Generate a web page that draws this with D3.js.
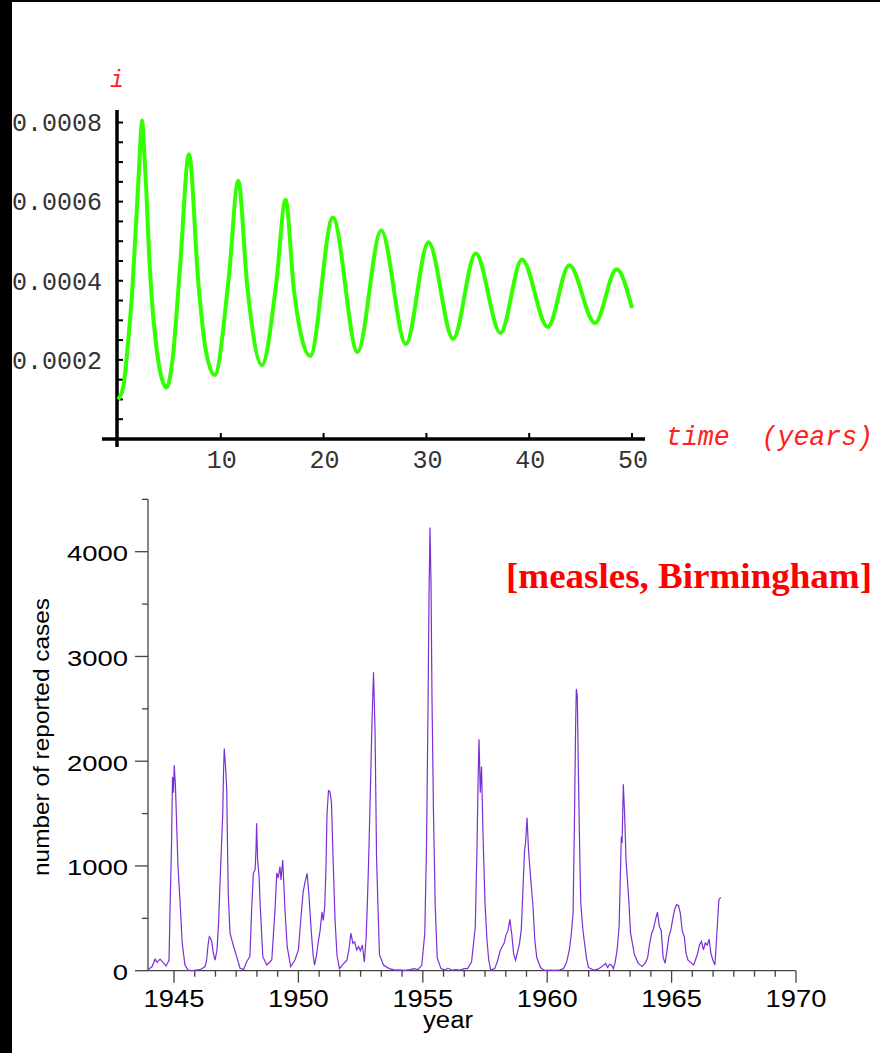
<!DOCTYPE html>
<html>
<head>
<meta charset="utf-8">
<script src="https://cdn.jsdelivr.net/npm/d3@7"></script>
<style>
  body { margin: 0; background: #000; }
  svg { display: block; }
</style>
</head>
<body>
<svg width="880" height="1053"></svg>
<script>
// top panel: model fraction infected i against time (years)
var modelTime = [0, 0.5, 1.0, 1.4, 1.7, 2.0, 2.2, 2.35, 2.5, 2.75, 3.0, 3.3, 3.7, 4.1, 4.74,
  5.3, 6.05, 6.9, 7.83, 8.5, 9.4, 10.77, 11.7, 12.56, 14.0, 15.38, 16.3, 17.1, 18.7, 20.9, 23.3, 25.6, 28.0,
  30.2, 32.6, 34.8, 37.2, 39.3, 41.8, 43.9, 46.4, 48.5, 50];
var modelI = [0.000100, 0.000130, 0.000250, 0.000380, 0.000520, 0.000660, 0.000760, 0.000805,
  0.000750, 0.000630, 0.000480, 0.000350, 0.000240, 0.000170, 0.000130,
  0.000200, 0.000440, 0.000720, 0.000390, 0.000230, 0.000162, 0.000406, 0.000653, 0.000390, 0.000187,
  0.000390, 0.000605, 0.000380, 0.000210, 0.000560, 0.000220, 0.000527, 0.000240,
  0.000497, 0.000253, 0.000469, 0.000268, 0.000454, 0.000283, 0.000439, 0.000293, 0.000429, 0.000331];
var modelTicksX = [10, 20, 30, 40, 50];
var modelTicksY = [0.0002, 0.0004, 0.0006, 0.0008];

// bottom panel: reported measles cases, Birmingham
var caseYear = [1943.95, 1944.12, 1944.24, 1944.32, 1944.44, 1944.56, 1944.68, 1944.80, 1944.84, 1944.90, 1944.94, 1944.98,
  1945.01, 1945.06, 1945.11, 1945.16, 1945.24, 1945.33, 1945.44, 1945.57, 1945.72, 1945.88, 1946.05, 1946.25,
  1946.31, 1946.37, 1946.42, 1946.47, 1946.52, 1946.57, 1946.65, 1946.73, 1946.79, 1946.85, 1946.91, 1946.96,
  1946.99, 1947.02, 1947.07, 1947.12, 1947.15, 1947.18, 1947.25, 1947.38, 1947.52, 1947.65, 1947.79, 1947.92,
  1948.05, 1948.12, 1948.19, 1948.26, 1948.30, 1948.32, 1948.36, 1948.42, 1948.46, 1948.57, 1948.73, 1948.93,
  1949.06, 1949.13, 1949.19, 1949.26, 1949.30, 1949.37, 1949.42, 1949.46, 1949.55, 1949.69, 1949.86, 1950.00,
  1950.10, 1950.19, 1950.27, 1950.35, 1950.43, 1950.51, 1950.59, 1950.65, 1950.73, 1950.79, 1950.87, 1950.95,
  1951.00, 1951.06, 1951.11, 1951.15, 1951.21, 1951.27, 1951.33, 1951.39, 1951.47, 1951.55, 1951.65, 1951.79,
  1951.95, 1952.03, 1952.11, 1952.19, 1952.26, 1952.34, 1952.42, 1952.49, 1952.57, 1952.65, 1952.72, 1952.78,
  1952.84, 1952.90, 1952.96, 1953.02, 1953.08, 1953.14, 1953.19, 1953.26, 1953.42, 1953.65, 1953.88, 1954.08,
  1954.29, 1954.49, 1954.65, 1954.81, 1954.96, 1955.08, 1955.15, 1955.21, 1955.25, 1955.29, 1955.33, 1955.37,
  1955.43, 1955.50, 1955.58, 1955.73, 1955.89, 1956.01, 1956.17, 1956.33, 1956.50, 1956.66, 1956.80, 1956.96,
  1957.11, 1957.18, 1957.22, 1957.26, 1957.31, 1957.36, 1957.42, 1957.50, 1957.58, 1957.65, 1957.73, 1957.89,
  1958.00, 1958.12, 1958.27, 1958.34, 1958.42, 1958.50, 1958.58, 1958.65, 1958.73, 1958.81, 1958.89, 1958.96,
  1959.03, 1959.09, 1959.13, 1959.19, 1959.25, 1959.33, 1959.43, 1959.50, 1959.58, 1959.73, 1959.89, 1960.11,
  1960.31, 1960.52, 1960.66, 1960.78, 1960.89, 1960.97, 1961.04, 1961.10, 1961.14, 1961.17, 1961.21, 1961.26,
  1961.31, 1961.35, 1961.43, 1961.50, 1961.58, 1961.66, 1961.89, 1962.04, 1962.20, 1962.35, 1962.43, 1962.50,
  1962.58, 1962.66, 1962.73, 1962.81, 1962.89, 1962.94, 1962.98, 1963.01, 1963.06, 1963.11, 1963.17, 1963.28,
  1963.35, 1963.51, 1963.66, 1963.82, 1963.97, 1964.04, 1964.12, 1964.20, 1964.27, 1964.35, 1964.43, 1964.51,
  1964.58, 1964.66, 1964.74, 1964.82, 1964.89, 1964.97, 1965.04, 1965.12, 1965.20, 1965.28, 1965.35, 1965.43,
  1965.51, 1965.58, 1965.66, 1965.74, 1965.89, 1966.05, 1966.12, 1966.20, 1966.28, 1966.35, 1966.43, 1966.51,
  1966.58, 1966.66, 1966.74, 1966.82, 1966.90, 1966.97];
var caseCount = [10, 40, 110, 80, 110, 80, 45, 100, 580, 1200, 1850, 1700,
  1960, 1750, 1375, 1000, 675, 264, 54, 5, 0, 5, 10, 40,
  100, 250, 325, 310, 277, 180, 102, 200, 450, 837, 1200, 1505,
  1900, 2120, 1950, 1725, 1200, 740, 360, 245, 134, 26, 10, 86,
  134, 580, 933, 962, 1184, 1407, 1057, 900, 646, 134, 54, 102,
  580, 933, 885, 993, 866, 1057, 800, 580, 229, 38, 102, 198,
  500, 750, 850, 930, 700, 400, 150, 54, 150, 264, 380, 560,
  480, 620, 1000, 1500, 1720, 1710, 1600, 1100, 500, 150, 20, 60,
  100, 200, 358, 260, 275, 198, 230, 190, 245, 84, 300, 700,
  1200, 1800, 2400, 2850, 2300, 1100, 675, 150, 54, 20, 5, 8,
  3, 10, 20, 10, 54, 358, 1200, 2500, 3600, 4230, 3700, 2600,
  1500, 611, 121, 20, 5, 25, 5, 10, 5, 20, 20, 84,
  420, 1200, 1800, 2210, 1700, 1950, 1300, 645, 293, 102, 5, 20,
  90, 198, 264, 340, 380, 490, 340, 160, 100, 180, 264, 397,
  800, 1150, 1220, 1460, 1150, 900, 611, 300, 126, 30, 3, 5,
  3, 8, 20, 80, 198, 350, 551, 1500, 2300, 2690, 2620, 1800,
  1100, 645, 400, 264, 120, 30, 5, 15, 40, 70, 30, 60,
  54, 20, 80, 198, 420, 900, 1280, 1220, 1780, 1500, 1050, 675,
  358, 150, 70, 40, 84, 130, 264, 358, 397, 486, 560, 420,
  390, 126, 70, 198, 325, 390, 486, 582, 630, 620, 550, 376,
  325, 166, 100, 84, 54, 166, 245, 280, 198, 264, 245, 300,
  166, 100, 54, 358, 675, 700];
var yearTicks = [1945, 1950, 1955, 1960, 1965, 1970];
var caseTicks = [0, 1000, 2000, 3000, 4000];

var svg = d3.select("svg");

// black frame with the white page
svg.append("rect").attr("width", 880).attr("height", 1053).attr("fill", "#000");
svg.append("rect").attr("x", 12).attr("y", 2).attr("width", 868).attr("height", 1051).attr("fill", "#fff");

//----- top chart -----
var x1 = d3.scaleLinear().domain([0, 50]).range([118, 632]);
var y1 = d3.scaleLinear().domain([0, 0.0008]).range([439, 122.5]);
var topG = svg.append("g");
var mono = "'Liberation Mono', 'Courier New', monospace";

// axes
topG.append("line").attr("x1", 117).attr("x2", 117).attr("y1", 110).attr("y2", 447)
  .attr("stroke", "#000").attr("stroke-width", 3.5);
topG.append("line").attr("x1", 102).attr("x2", 645).attr("y1", y1(0)).attr("y2", y1(0))
  .attr("stroke", "#000").attr("stroke-width", 3.5);

// y ticks every 0.00005
topG.selectAll(".ytick").data(d3.range(1, 17).map(function(i){ return i * 0.00005; }))
  .enter().append("line")
  .attr("x1", 117).attr("x2", 123)
  .attr("y1", function(d){ return y1(d); }).attr("y2", function(d){ return y1(d); })
  .attr("stroke", "#000").attr("stroke-width", 2);
topG.selectAll(".xtick").data(modelTicksX)
  .enter().append("line")
  .attr("x1", function(d){ return x1(d); }).attr("x2", function(d){ return x1(d); })
  .attr("y1", y1(0)).attr("y2", y1(0) - 6)
  .attr("stroke", "#000").attr("stroke-width", 2);

topG.selectAll(".ylab").data(modelTicksY)
  .enter().append("text")
  .attr("x", 102).attr("y", function(d){ return y1(d); })
  .attr("dy", "0.35em")
  .attr("text-anchor", "end")
  .style("font-family", mono).style("font-size", "25px").attr("fill", "#333")
  .text(function(d){ return d.toFixed(4); });
topG.selectAll(".xlab").data(modelTicksX)
  .enter().append("text")
  .attr("x", function(d){ return x1(d) + 1; }).attr("y", 468)
  .attr("text-anchor", "middle")
  .style("font-family", mono).style("font-size", "25px").attr("fill", "#333")
  .text(function(d){ return d; });

// the model curve
var modelLine = d3.line()
  .x(function(d){ return x1(d[0]); })
  .y(function(d){ return y1(d[1]); })
  .curve(d3.curveMonotoneX);
topG.append("path")
  .datum(d3.zip(modelTime, modelI))
  .attr("d", modelLine)
  .attr("fill", "none")
  .attr("stroke", "#33ff00")
  .attr("stroke-width", 4)
  .attr("stroke-linejoin", "round");

// red axis names
topG.append("text").attr("x", 117).attr("y", 87).attr("text-anchor", "middle")
  .style("font-family", mono).style("font-style", "italic").style("font-size", "23px")
  .attr("fill", "#ff2020").text("i");
topG.append("text").attr("x", 666).attr("y", 445)
  .attr("textLength", 207).attr("lengthAdjust", "spacingAndGlyphs")
  .style("white-space", "pre")
  .style("font-family", mono).style("font-style", "italic").style("font-size", "27px")
  .attr("fill", "#ff2020").text("time  (years)");

//----- bottom chart -----
var x2 = d3.scaleLinear().domain([1945, 1970]).range([174, 796]);
var y2 = d3.scaleLinear().domain([0, 4000]).range([970.7, 551.7]);
var botG = svg.append("g");
var sans = "'Liberation Sans', Arial, Helvetica, sans-serif";
var axisCol = "#444";

botG.append("line").attr("x1", 148).attr("x2", 148).attr("y1", y2(0)).attr("y2", y2(4500))
  .attr("stroke", axisCol).attr("stroke-width", 1.3);
botG.append("line").attr("x1", 148).attr("x2", x2(1970)).attr("y1", y2(0)).attr("y2", y2(0))
  .attr("stroke", axisCol).attr("stroke-width", 1.3);

// y ticks every 500, the labelled ones longer
botG.selectAll(".ytick").data(d3.range(0, 4501, 500))
  .enter().append("line")
  .attr("x1", function(d){ return d % 1000 == 0 ? 135 : 142; }).attr("x2", 148)
  .attr("y1", function(d){ return y2(d); }).attr("y2", function(d){ return y2(d); })
  .attr("stroke", axisCol).attr("stroke-width", 1.3);

// x ticks every 10 months, from 1970 back
var minorYears = d3.range(0, 31).map(function(k){ return 1970 - k * 5 / 6; });
botG.selectAll(".xtick").data(minorYears)
  .enter().append("line")
  .attr("x1", function(d){ return x2(d); }).attr("x2", function(d){ return x2(d); })
  .attr("y1", y2(0))
  .attr("y2", function(d){ return Math.abs(d - Math.round(d / 5) * 5) < 0.01 ? y2(0) + 12 : y2(0) + 6; })
  .attr("stroke", axisCol).attr("stroke-width", 1.3);

botG.selectAll(".ylab").data(caseTicks)
  .enter().append("text")
  .attr("x", 128).attr("y", function(d){ return y2(d) + 1.5; })
  .attr("dy", "0.36em")
  .attr("text-anchor", "end")
  .attr("textLength", function(d){ return String(d).length * 15.25; })
  .attr("lengthAdjust", "spacingAndGlyphs")
  .style("font-family", sans).style("font-size", "22px").attr("fill", "#000")
  .text(function(d){ return d; });
botG.selectAll(".xlab").data(yearTicks)
  .enter().append("text")
  .attr("x", function(d){ return x2(d) - 30.4; }).attr("y", 1006.7)
  .attr("textLength", 60.8)
  .attr("lengthAdjust", "spacingAndGlyphs")
  .style("font-family", sans).style("font-size", "23px").attr("fill", "#000")
  .text(function(d){ return d; });

botG.append("text").attr("x", 423).attr("y", 1027.7)
  .attr("textLength", 50).attr("lengthAdjust", "spacingAndGlyphs")
  .style("font-family", sans).style("font-size", "23px").text("year");
botG.append("text")
  .attr("transform", "translate(49,737) rotate(-90)")
  .attr("x", -139).attr("y", 0)
  .attr("textLength", 278).attr("lengthAdjust", "spacingAndGlyphs")
  .style("font-family", sans).style("font-size", "22px").text("number of reported cases");

// the case series
var caseLine = d3.line()
  .x(function(d){ return x2(d[0]); })
  .y(function(d){ return y2(d[1]); });
botG.append("path")
  .datum(d3.zip(caseYear, caseCount))
  .attr("d", caseLine)
  .attr("fill", "none")
  .attr("stroke", "#7b30d5")
  .attr("stroke-width", 1.2);

botG.append("text").attr("x", 506).attr("y", 588)
  .attr("textLength", 366).attr("lengthAdjust", "spacingAndGlyphs")
  .style("font-family", "'Liberation Serif', 'Times New Roman', serif")
  .style("font-weight", "bold").style("font-size", "36px")
  .attr("fill", "#ff0000").text("[measles, Birmingham]");
</script>
</body>
</html>
